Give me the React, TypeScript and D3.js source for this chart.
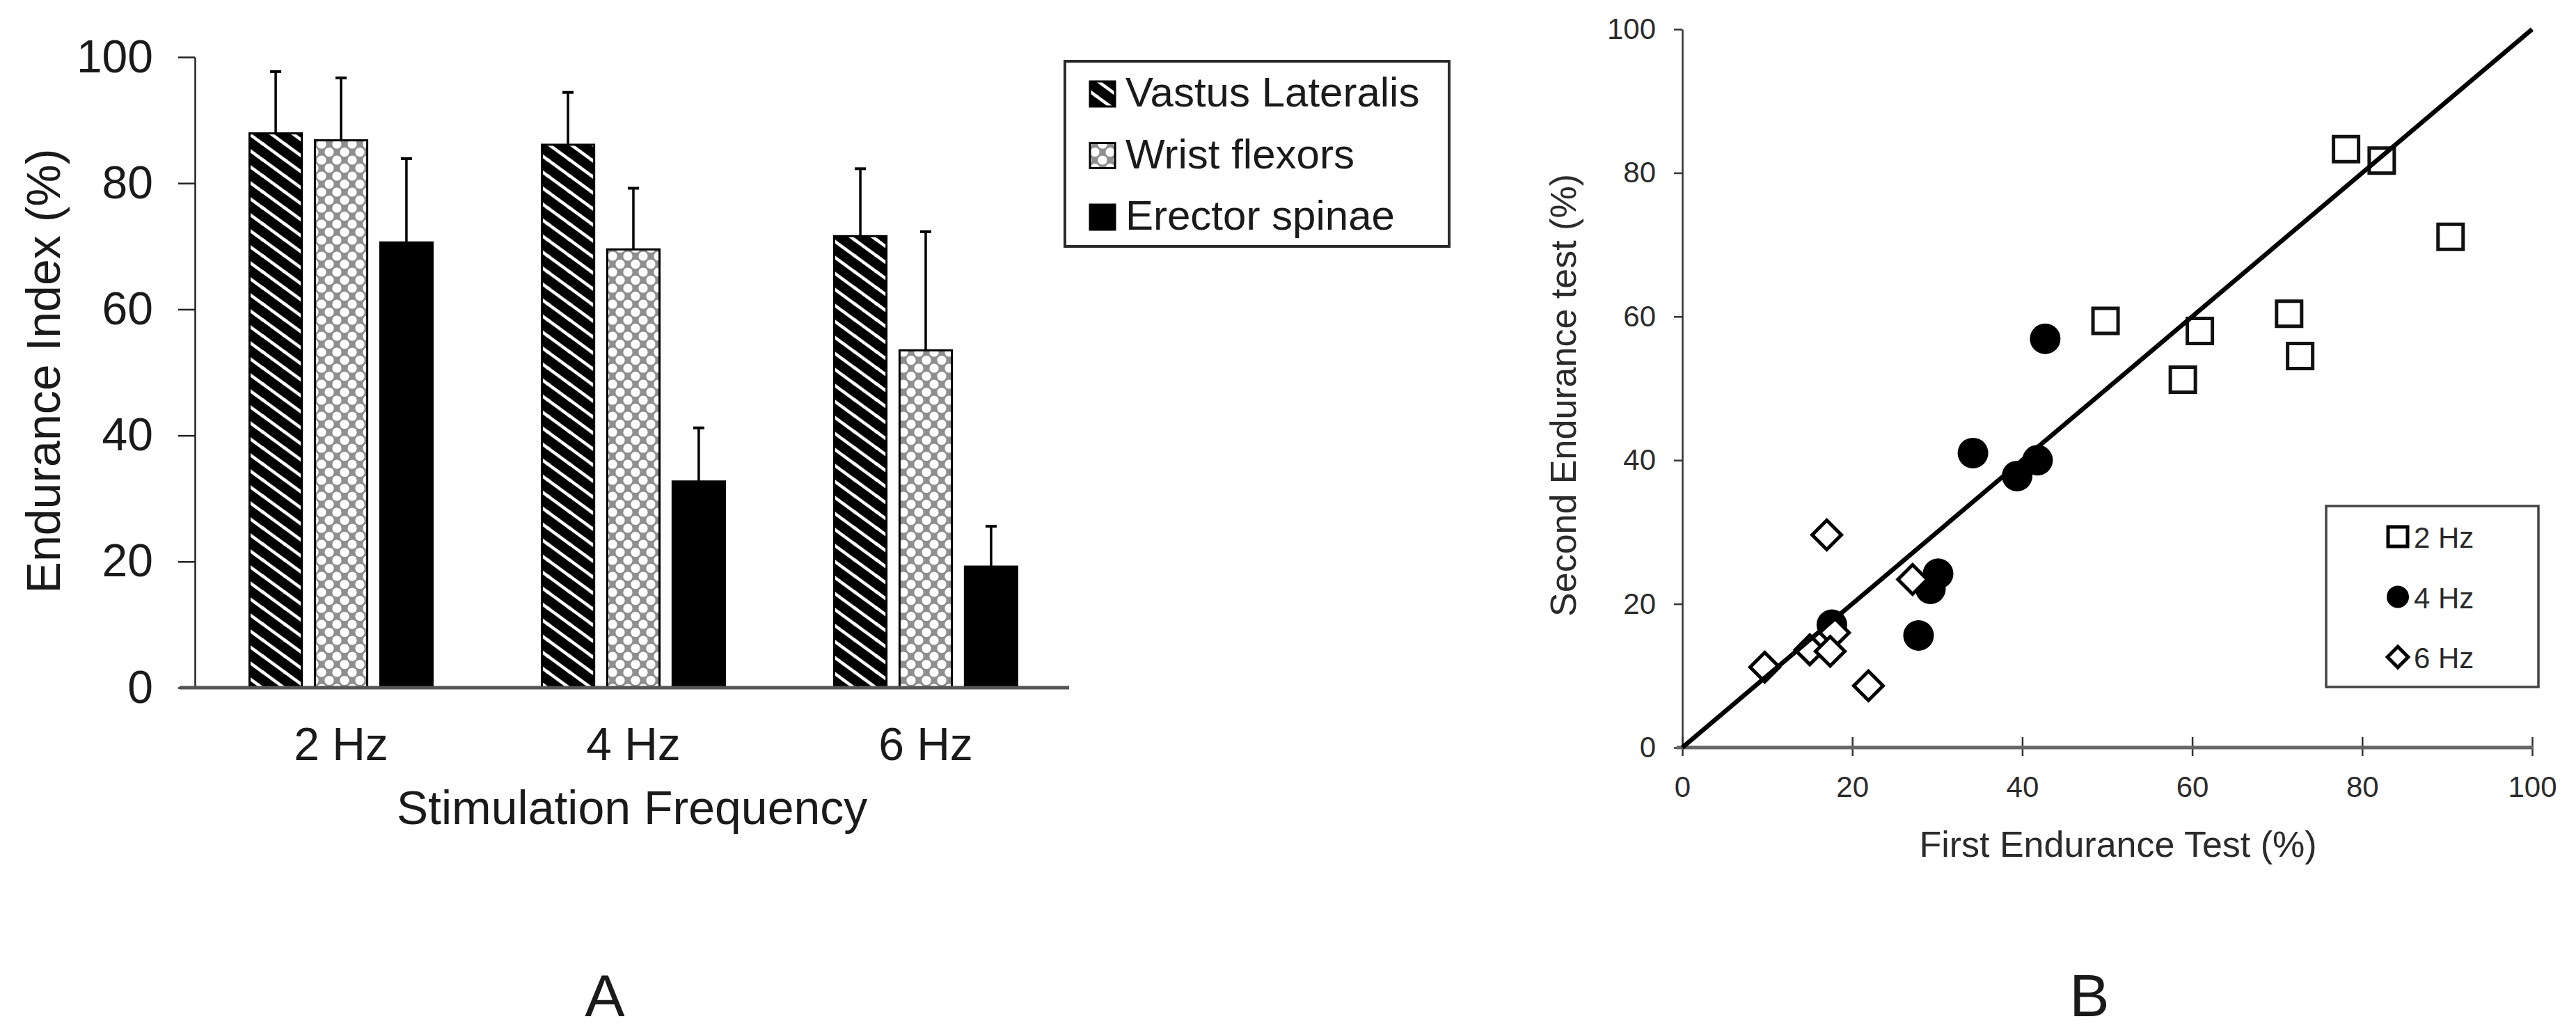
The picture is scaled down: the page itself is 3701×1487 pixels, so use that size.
import React, { useEffect, useRef } from 'react'
import * as d3 from 'd3'

// Panel A: endurance index by stimulation frequency (mean + SD)
const frequencies = ['2 Hz', '4 Hz', '6 Hz']
const muscles = ['Vastus Lateralis', 'Wrist flexors', 'Erector spinae']
const vastusMean = [87.9, 86.1, 71.6]
const vastusSd = [9.8, 8.3, 10.7]
const wristMean = [86.8, 69.5, 53.5]
const wristSd = [9.9, 9.7, 18.8]
const erectorMean = [70.6, 32.7, 19.2]
const erectorSd = [13.3, 8.5, 6.4]
const barTicks = [0, 20, 40, 60, 80, 100]

// Panel B: test-retest
const first2Hz = [78.1, 82.3, 90.4, 49.8, 60.9, 58.9, 71.4, 72.7]
const second2Hz = [83.3, 81.7, 71.1, 59.4, 58.0, 51.2, 60.4, 54.5]
const first4Hz = [42.7, 34.2, 41.8, 39.4, 30.1, 29.2, 27.8, 17.6]
const second4Hz = [56.9, 41.0, 40.0, 37.8, 24.2, 22.1, 15.6, 17.1]
const first6Hz = [17.0, 27.1, 17.9, 15.0, 17.4, 9.7, 21.9]
const second6Hz = [29.6, 23.4, 16.0, 13.6, 13.4, 11.2, 8.6]
const scatterTicks = [0, 20, 40, 60, 80, 100]
const identityLine = [0, 100]
const scatterLegend = ['2 Hz', '4 Hz', '6 Hz']

const W = 3701
const H = 1487
const FONT = "'Liberation Sans', Arial, Helvetica, sans-serif"

export default function App() {
  const ref = useRef<SVGSVGElement | null>(null)

  useEffect(() => {
    if (!ref.current) return
    const svg = d3.select(ref.current)
    svg.selectAll('*').remove()
    svg.append('rect').attr('width', W).attr('height', H).attr('fill', '#fff')

    const defs = svg.append('defs')
    // wide downward diagonal
    const pw = 31.5
    const ph = 23
    const diag = defs
      .append('pattern')
      .attr('id', 'diag')
      .attr('patternUnits', 'userSpaceOnUse')
      .attr('width', pw)
      .attr('height', ph)
    diag.append('rect').attr('width', pw).attr('height', ph).attr('fill', '#000')
    ;[
      [0, 0],
      [pw, 0],
      [0, ph],
      [-pw, 0],
      [0, -ph],
    ].forEach(([ox, oy]) => {
      diag
        .append('line')
        .attr('x1', ox - pw)
        .attr('y1', oy - ph)
        .attr('x2', ox + 2 * pw)
        .attr('y2', oy + 2 * ph)
        .attr('stroke', '#fff')
        .attr('stroke-width', 4.5)
    })

    // dotted grid (wrist flexors)
    const gw = 22
    const gh = 23
    const dots = defs
      .append('pattern')
      .attr('id', 'dots')
      .attr('patternUnits', 'userSpaceOnUse')
      .attr('width', gw)
      .attr('height', gh)
    dots.append('rect').attr('width', gw).attr('height', gh).attr('fill', '#8f8f8f')
    ;[
      [0, 0],
      [gw, 0],
      [0, gh],
      [gw, gh],
      [gw / 2, gh / 2],
    ].forEach(([cx, cy]) => {
      dots.append('circle').attr('cx', cx).attr('cy', cy).attr('r', 6.6).attr('fill', '#fff')
    })

    const fills = ['url(#diag)', 'url(#dots)', '#000']
    const means = [vastusMean, wristMean, erectorMean]
    const sds = [vastusSd, wristSd, erectorSd]

    // ---------- Panel A ----------
    const x0 = d3.scaleBand().domain(frequencies).range([280, 1540])
    const x1 = d3.scaleBand().domain(muscles).range([78.5, 341.5]).paddingInner(0.2)
    const y = d3.scaleLinear().domain([0, 100]).range([988, 82])

    const a = svg.append('g').attr('font-family', FONT).attr('fill', '#1a1a1a')

    const yAxis = a
      .append('g')
      .attr('transform', 'translate(280,0)')
      .call(d3.axisLeft(y).tickValues(barTicks).tickSize(24).tickPadding(36).tickSizeOuter(0))
    yAxis.select('.domain').attr('stroke', '#222').attr('stroke-width', 2.5)
    yAxis.selectAll('.tick line').attr('stroke', '#222').attr('stroke-width', 2.5)
    yAxis
      .selectAll('.tick text')
      .attr('font-size', 66)
      .attr('font-family', FONT)
      .attr('fill', '#1a1a1a')

    const rows = frequencies.flatMap((f, i) =>
      muscles.map((m, j) => ({ f, m, j, v: means[j][i], sd: sds[j][i] }))
    )

    const bars = a.append('g')
    bars
      .selectAll('rect')
      .data(rows)
      .join('rect')
      .attr('x', (d) => (x0(d.f) || 0) + (x1(d.m) || 0))
      .attr('y', (d) => y(d.v))
      .attr('width', x1.bandwidth())
      .attr('height', (d) => y(0) - y(d.v))
      .attr('fill', (d) => fills[d.j])
      .attr('stroke', '#000')
      .attr('stroke-width', 3)

    const err = a.append('g').attr('stroke', '#000')
    err
      .selectAll('line.v')
      .data(rows)
      .join('line')
      .attr('class', 'v')
      .attr('x1', (d) => (x0(d.f) || 0) + (x1(d.m) || 0) + x1.bandwidth() / 2)
      .attr('x2', (d) => (x0(d.f) || 0) + (x1(d.m) || 0) + x1.bandwidth() / 2)
      .attr('y1', (d) => y(d.v))
      .attr('y2', (d) => y(d.v + d.sd))
      .attr('stroke-width', 3.5)
    err
      .selectAll('line.cap')
      .data(rows)
      .join('line')
      .attr('class', 'cap')
      .attr('x1', (d) => (x0(d.f) || 0) + (x1(d.m) || 0) + x1.bandwidth() / 2 - 8)
      .attr('x2', (d) => (x0(d.f) || 0) + (x1(d.m) || 0) + x1.bandwidth() / 2 + 8)
      .attr('y1', (d) => y(d.v + d.sd))
      .attr('y2', (d) => y(d.v + d.sd))
      .attr('stroke-width', 4)

    a.append('line')
      .attr('x1', 258)
      .attr('x2', 1536)
      .attr('y1', y(0))
      .attr('y2', y(0))
      .attr('stroke', '#555')
      .attr('stroke-width', 5)

    a.append('g')
      .selectAll('text')
      .data(frequencies)
      .join('text')
      .attr('x', (d) => (x0(d) || 0) + x0.bandwidth() / 2)
      .attr('y', 1092)
      .attr('text-anchor', 'middle')
      .attr('font-size', 66)
      .text((d) => d)

    a.append('text')
      .attr('x', 908)
      .attr('y', 1184)
      .attr('text-anchor', 'middle')
      .attr('font-size', 68)
      .text('Stimulation Frequency')

    a.append('text')
      .attr('transform', 'translate(86,533) rotate(-90)')
      .attr('text-anchor', 'middle')
      .attr('font-size', 68)
      .text('Endurance Index (%)')

    // legend A
    const legA = a.append('g')
    legA
      .append('rect')
      .attr('x', 1530)
      .attr('y', 88)
      .attr('width', 552)
      .attr('height', 266)
      .attr('fill', '#fff')
      .attr('stroke', '#2a2a2a')
      .attr('stroke-width', 4)
    muscles.forEach((m, j) => {
      const top = 117 + j * 88.5
      legA
        .append('rect')
        .attr('x', 1566)
        .attr('y', top)
        .attr('width', 36)
        .attr('height', 36)
        .attr('fill', fills[j])
        .attr('stroke', '#000')
        .attr('stroke-width', 3)
      legA
        .append('text')
        .attr('x', 1617)
        .attr('y', top + 36)
        .attr('font-size', 60)
        .text(m)
    })

    a.append('text')
      .attr('x', 869)
      .attr('y', 1460)
      .attr('text-anchor', 'middle')
      .attr('font-size', 86)
      .text('A')

    // ---------- Panel B ----------
    const sx = d3.scaleLinear().domain([0, 100]).range([2417, 3638])
    const sy = d3.scaleLinear().domain([0, 100]).range([1074, 42])
    const b = svg.append('g').attr('font-family', FONT).attr('fill', '#2b2b2b')

    const syAxis = b
      .append('g')
      .attr('transform', `translate(${sx(0)},0)`)
      .call(d3.axisLeft(sy).tickValues(scatterTicks).tickSize(12).tickPadding(26).tickSizeOuter(0))
    syAxis.select('.domain').attr('stroke', '#333').attr('stroke-width', 2.5)
    syAxis.selectAll('.tick line').attr('stroke', '#333').attr('stroke-width', 2.5)
    syAxis.selectAll('.tick text').attr('font-size', 42).attr('font-family', FONT).attr('fill', '#2b2b2b')

    const sxAxis = b
      .append('g')
      .attr('transform', `translate(0,${sy(0)})`)
      .call(d3.axisBottom(sx).tickValues(scatterTicks).tickSize(12).tickPadding(29).tickSizeOuter(0))
    sxAxis.select('.domain').remove()
    sxAxis
      .selectAll('.tick line')
      .attr('y1', -15)
      .attr('stroke', '#333')
      .attr('stroke-width', 2.5)
    sxAxis.selectAll('.tick text').attr('font-size', 42).attr('font-family', FONT).attr('fill', '#2b2b2b')
    b.append('line')
      .attr('x1', sx(0) - 8)
      .attr('x2', sx(100) + 2)
      .attr('y1', sy(0))
      .attr('y2', sy(0))
      .attr('stroke', '#666')
      .attr('stroke-width', 5)

    const pts = (xs: number[], ys: number[]) => xs.map((v, i) => [v, ys[i]] as [number, number])

    const square = d3.symbol(d3.symbolSquare, 36 * 36)
    const circle = d3.symbol(d3.symbolCircle, Math.PI * 22 * 22)
    const diamond = d3.symbol(d3.symbolSquare, 29.7 * 29.7)

    b.append('g')
      .selectAll('path')
      .data(pts(first2Hz, second2Hz))
      .join('path')
      .attr('transform', (d) => `translate(${sx(d[0])},${sy(d[1])})`)
      .attr('d', square())
      .attr('fill', 'none')
      .attr('stroke', '#111')
      .attr('stroke-width', 5)

    b.append('g')
      .selectAll('path')
      .data(pts(first4Hz, second4Hz))
      .join('path')
      .attr('transform', (d) => `translate(${sx(d[0])},${sy(d[1])})`)
      .attr('d', circle())
      .attr('fill', '#000')

    b.append('g')
      .selectAll('path')
      .data(pts(first6Hz, second6Hz))
      .join('path')
      .attr('transform', (d) => `translate(${sx(d[0])},${sy(d[1])}) rotate(45)`)
      .attr('d', diamond())
      .attr('fill', '#fff')
      .attr('stroke', '#000')
      .attr('stroke-width', 5)

    b.append('path')
      .datum(identityLine.map((v) => [v, v] as [number, number]))
      .attr(
        'd',
        d3
          .line<[number, number]>()
          .x((d) => sx(d[0]))
          .y((d) => sy(d[1]))
      )
      .attr('fill', 'none')
      .attr('stroke', '#000')
      .attr('stroke-width', 6.5)

    b.append('text')
      .attr('x', 3043)
      .attr('y', 1231)
      .attr('text-anchor', 'middle')
      .attr('font-size', 52)
      .text('First Endurance Test (%)')

    b.append('text')
      .attr('transform', 'translate(2264,568) rotate(-90)')
      .attr('text-anchor', 'middle')
      .attr('font-size', 52)
      .text('Second Endurance test (%)')

    // legend B
    const legB = b.append('g')
    legB
      .append('rect')
      .attr('x', 3342)
      .attr('y', 727)
      .attr('width', 305)
      .attr('height', 260)
      .attr('fill', '#fff')
      .attr('stroke', '#444')
      .attr('stroke-width', 3.5)
    const legSymbols = [
      d3.symbol(d3.symbolSquare, 28 * 28)(),
      d3.symbol(d3.symbolCircle, Math.PI * 16 * 16)(),
      d3.symbol(d3.symbolSquare, 21 * 21)(),
    ]
    scatterLegend.forEach((label, i) => {
      const cy = 771 + i * 86.5
      legB
        .append('path')
        .attr('transform', `translate(3445,${cy})${i === 2 ? ' rotate(45)' : ''}`)
        .attr('d', legSymbols[i] || '')
        .attr('fill', i === 1 ? '#000' : i === 2 ? '#fff' : 'none')
        .attr('stroke', i === 1 ? 'none' : '#000')
        .attr('stroke-width', 5)
      legB
        .append('text')
        .attr('x', 3468)
        .attr('y', cy + 16)
        .attr('font-size', 42)
        .text(label)
    })

    b.append('text')
      .attr('x', 3002)
      .attr('y', 1460)
      .attr('text-anchor', 'middle')
      .attr('font-size', 86)
      .attr('fill', '#1a1a1a')
      .text('B')
  }, [])

  return (
    <svg
      ref={ref}
      width={W}
      height={H}
      viewBox={`0 0 ${W} ${H}`}
      style={{ position: 'absolute', left: 0, top: 0, display: 'block' }}
      role="img"
      aria-label="Endurance index bar chart and test-retest scatter"
    />
  )
}
